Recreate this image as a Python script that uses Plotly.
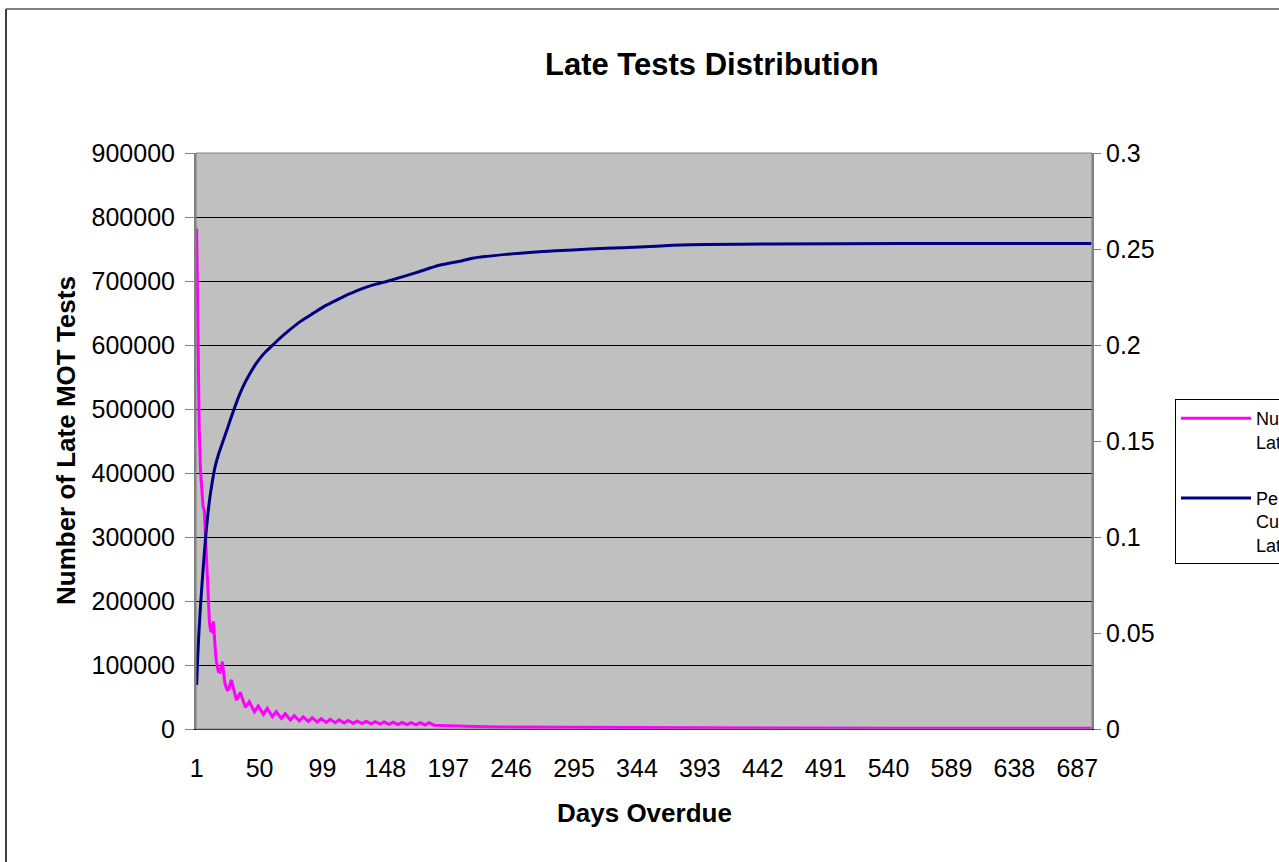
import plotly.graph_objects as go

# ---- data ----
late_days = [1, 2, 3, 4, 5, 6, 7, 8, 9, 10, 11, 12, 13, 14, 15, 16, 17, 18, 19, 20, 21,
             22, 23, 24, 25, 26, 27, 28,
             32, 35, 39, 42, 46, 49, 53, 56, 60, 63, 67, 70, 74, 77, 81, 84, 88, 91,
             95, 98, 102, 105, 109, 112, 116, 119, 123, 126, 130, 133, 137, 140,
             144, 147, 151, 154, 158, 161, 165, 168, 172, 175, 179, 182,
             186, 190, 198, 210, 239, 280, 330, 370, 450, 550, 698]
late_counts = [782000, 580000, 470000, 405000, 365000, 347000, 342000, 300000, 243000, 195000,
               165000, 153000, 152000, 168000, 135000, 112000, 98000, 90000, 89000, 95000, 105000,
               85000, 72000, 65000, 61000, 62000, 68000, 76600,
               45300, 57300, 33900, 42700, 27000, 35900, 22900, 32300, 19200, 27000, 16700, 23900,
               14000, 20800, 12800, 19000, 11800, 17500, 11000, 16200, 10300, 15200, 9800, 14200,
               9300, 13400, 8800, 12700, 8400, 12000, 8000, 11400, 7600, 10900, 7300, 10500,
               7000, 10200, 6800, 10000, 6600, 9800, 6300, 9800,
               6000, 5600, 5000, 4200, 3100, 2600, 2200, 2000, 1600, 1300, 1000]

cum_days = [1, 2, 3, 4, 6, 8, 11, 13, 15, 18, 22, 25, 28, 34, 38, 42, 46, 50, 55, 60, 66,
            73, 82, 92, 100, 110, 120, 130, 140, 151, 172, 190, 208, 216, 242, 268, 294,
            320, 346, 372, 398, 447, 550, 698]
cum_share = [0.0229, 0.040, 0.053, 0.064, 0.083, 0.0998, 0.119, 0.128, 0.1355, 0.143,
             0.1508, 0.1565, 0.1625, 0.1735, 0.1795, 0.1845, 0.1890, 0.1928, 0.1966,
             0.1998, 0.2036, 0.2076, 0.2123, 0.2166, 0.2200, 0.2234, 0.2266, 0.2294,
             0.2316, 0.2335, 0.2377, 0.2415, 0.2439, 0.2452, 0.2472, 0.2486, 0.2495,
             0.2504, 0.2510, 0.2519, 0.2524, 0.2526, 0.2528, 0.2529]

x_ticks = [1, 50, 99, 148, 197, 246, 295, 344, 393, 442, 491, 540, 589, 638, 687]
left_ticks = [0, 100000, 200000, 300000, 400000, 500000, 600000, 700000, 800000, 900000]
right_ticks = [0, 0.05, 0.1, 0.15, 0.2, 0.25, 0.3]

name_count = "Number of<br>Late Tests"
name_share = "Percentage<br>Cumulative<br>Late Tests"

# ---- layout geometry (page pixels; body margin removed by post_script) ----
W, H = 1279, 862
PL, PR, PT, PB = 196, 1092, 153, 729
FONT = "Arial, Liberation Sans, sans-serif"


def px(x):
    return (x - PL) / (PR - PL)


def py(y):
    return (PB - y) / (PB - PT)


fig = go.Figure()
fig.add_trace(go.Scatter(x=late_days, y=late_counts, mode="lines", name=name_count,
                         line=dict(color="#FF00FF", width=3), legendgroup="a"))
fig.add_trace(go.Scatter(x=cum_days, y=cum_share, mode="lines", name=name_share,
                         line=dict(color="#000080", width=3, shape="spline", smoothing=0.6),
                         yaxis="y2", legendgroup="b"))

fig.update_layout(
    width=W, height=H,
    margin=dict(l=PL, r=W - PR, t=PT, b=H - PB, autoexpand=False),
    paper_bgcolor="white", plot_bgcolor="#C0C0C0",
    font=dict(family=FONT, color="black", size=25),
    showlegend=True,
    xaxis=dict(range=[0.5, 698.5], tickvals=x_ticks, ticktext=[str(v) for v in x_ticks],
               showgrid=False, zeroline=False, showline=True, linecolor="black", linewidth=1,
               ticks="", ticklabelstandoff=17, tickfont=dict(size=25)),
    yaxis=dict(range=[0, 900000], tickvals=left_ticks, tickformat="d",
               showgrid=True, gridcolor="black", gridwidth=1, zeroline=False,
               showline=True, linecolor="#808080", linewidth=2,
               ticks="outside", ticklen=9, tickcolor="#808080", ticklabelstandoff=5,
               tickfont=dict(size=25)),
    yaxis2=dict(range=[0, 0.3], tickvals=right_ticks, overlaying="y", side="right",
                showgrid=False, zeroline=False, showline=True, linecolor="#808080", linewidth=2,
                ticks="outside", ticklen=7, tickcolor="#808080", ticklabelstandoff=0,
                tickfont=dict(size=25)),
    legend=dict(x=px(1175), y=py(399), xanchor="left", yanchor="top",
                bgcolor="white", bordercolor="black", borderwidth=1,
                font=dict(size=18), valign="top", itemwidth=70,
                traceorder="grouped", tracegroupgap=30),
    shapes=[
        dict(type="rect", xref="paper", yref="paper", x0=0, x1=1, y0=0, y1=1,
             line=dict(color="#808080", width=1), layer="above"),
        dict(type="rect", xref="paper", yref="paper", x0=px(6), x1=px(1300), y0=py(880), y1=py(9),
             line=dict(color="black", width=1), layer="above"),
        dict(type="line", xref="paper", yref="paper", x0=px(6), x1=px(6), y0=py(880), y1=py(9),
             line=dict(color="#404040", width=2), layer="above"),
    ],
    annotations=[
        dict(text="<b>Late Tests Distribution</b>", xref="paper", yref="paper",
             x=px(712), y=py(64), xanchor="center", yanchor="middle", showarrow=False,
             font=dict(size=31)),
        dict(text="<b>Number of Late MOT Tests</b>", xref="paper", yref="paper",
             x=px(66), y=py(441), xanchor="center", yanchor="middle", showarrow=False,
             textangle=-90, font=dict(size=26)),
        dict(text="<b>Days Overdue</b>", xref="paper", yref="paper",
             x=px(644), y=py(813), xanchor="center", yanchor="middle", showarrow=False,
             font=dict(size=26)),
    ],
)

fig.write_html("out.html", config={"displayModeBar": False},
               post_script="document.body.style.margin='0';document.body.style.overflow='hidden';")
